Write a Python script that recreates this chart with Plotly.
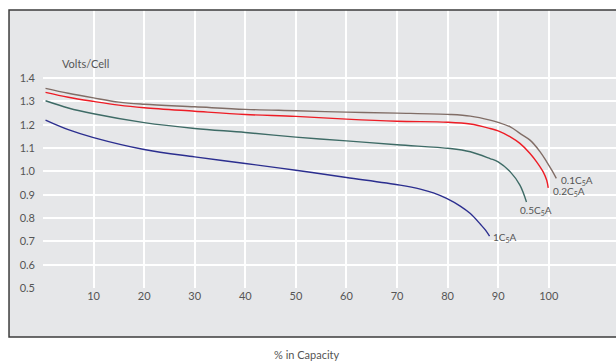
import plotly.graph_objects as go

# Discharge curves: % of rated capacity vs. cell voltage
cap_01c = [0.5, 5, 10, 15, 20, 30, 40, 50, 60, 70, 80.5, 84.5, 88.4, 90, 92.4, 94.3, 96.3, 98.3, 99.6, 100.6, 101.5]
v_01c = [1.356, 1.335, 1.315, 1.297, 1.288, 1.277, 1.266, 1.260, 1.254, 1.250, 1.244, 1.237, 1.220, 1.210, 1.191, 1.163, 1.134, 1.084, 1.041, 1.005, 0.970]

cap_02c = [0.5, 5, 10, 15, 20, 30, 40, 50, 60, 70, 80, 84.5, 88.4, 90, 92.4, 94.3, 96.3, 97.6, 98.9, 99.6, 99.9]
v_02c = [1.339, 1.318, 1.300, 1.284, 1.273, 1.258, 1.244, 1.236, 1.224, 1.215, 1.211, 1.203, 1.184, 1.174, 1.148, 1.120, 1.077, 1.041, 0.998, 0.962, 0.929]

cap_05c = [0.5, 5, 10, 20, 30, 40, 50, 60, 70, 80.5, 84.5, 88.4, 90, 92.4, 94.3, 95.6]
v_05c = [1.303, 1.272, 1.247, 1.209, 1.184, 1.167, 1.147, 1.131, 1.114, 1.098, 1.084, 1.055, 1.041, 0.998, 0.941, 0.869]

cap_1c = [0.5, 5, 10, 20, 30, 40, 50, 60, 70.6, 74.6, 77.2, 79.8, 82.5, 84.5, 86.5, 87.5, 88.3]
v_1c = [1.220, 1.179, 1.145, 1.094, 1.062, 1.034, 1.005, 0.974, 0.941, 0.924, 0.908, 0.884, 0.851, 0.819, 0.773, 0.748, 0.722]

series_names = ["0.1C<sub>5</sub>A", "0.2C<sub>5</sub>A", "0.5C<sub>5</sub>A", "1C<sub>5</sub>A"]
x_ticks = [10, 20, 30, 40, 50, 60, 70, 80, 90, 100]
y_ticks = [0.5, 0.6, 0.7, 0.8, 0.9, 1.0, 1.1, 1.2, 1.3, 1.4]

# (x, y, colour, label offset in px)
series = [
    (cap_01c, v_01c, "#806d66", (3, -2)),
    (cap_02c, v_02c, "#ee1c25", (3, -4)),
    (cap_05c, v_05c, "#3e6b66", (-8, -9)),
    (cap_1c, v_1c, "#2b2e8f", (1, -1)),
]

FONT = "Lato, 'Open Sans', sans-serif"
TEXT = "#555555"
BG = "#e6e7e9"

fig = go.Figure()
annotations = []
for (xs, ys, color, (dx, dy)), name in zip(series, series_names):
    fig.add_trace(go.Scatter(
        x=xs, y=ys, mode="lines", name=name,
        line=dict(color=color, width=1.4, shape="spline", smoothing=1.0),
        hoverinfo="skip",
    ))
    annotations.append(dict(
        x=xs[-1], y=ys[-1], xref="x", yref="y", text=name, showarrow=False,
        xanchor="left", yanchor="middle", xshift=dx, yshift=dy,
        font=dict(family=FONT, size=10, color=TEXT),
    ))

annotations.append(dict(
    x=0.0297, y=0.809, xref="paper", yref="paper", text="Volts/Cell",
    showarrow=False, xanchor="left", yanchor="middle",
    font=dict(family=FONT, size=11, color=TEXT),
))
annotations.append(dict(
    x=0.4607, y=-0.241, xref="paper", yref="paper", text="% in Capacity",
    showarrow=False, xanchor="center", yanchor="middle",
    font=dict(family=FONT, size=11, color=TEXT),
))

fig.update_layout(
    width=616, height=361, autosize=False,
    margin=dict(l=43, r=0, t=10, b=73),
    paper_bgcolor="white", plot_bgcolor=BG,
    showlegend=False,
    font=dict(family=FONT, size=11, color=TEXT),
    annotations=annotations,
    shapes=[
        dict(type="rect", xref="paper", yref="paper",
             x0=-0.0593, x1=1.02, y0=-0.1763, y1=1.0,
             fillcolor=BG, line=dict(width=0), layer="below"),
        dict(type="rect", xref="paper", yref="paper",
             x0=-0.0593, x1=1.02, y0=-0.1763, y1=1.0,
             fillcolor="rgba(0,0,0,0)", line=dict(color="#3c3c3c", width=1.5),
             layer="above"),
    ],
)
fig.update_xaxes(
    range=[0, 113.3], tickvals=x_ticks, ticktext=[str(v) for v in x_ticks],
    showgrid=True, gridcolor="white", gridwidth=1.5,
    zeroline=False, showline=False, ticks="",
    tickfont=dict(family=FONT, size=11, color=TEXT),
)
fig.update_yaxes(
    range=[0.5, 1.692], tickvals=y_ticks, ticktext=[f"{v:.1f}" for v in y_ticks],
    showgrid=True, gridcolor="white", gridwidth=1.5,
    zeroline=False, showline=False, ticks="", ticklabelstandoff=7,
    tickfont=dict(family=FONT, size=11, color=TEXT),
)

fig.write_html("out.html")
